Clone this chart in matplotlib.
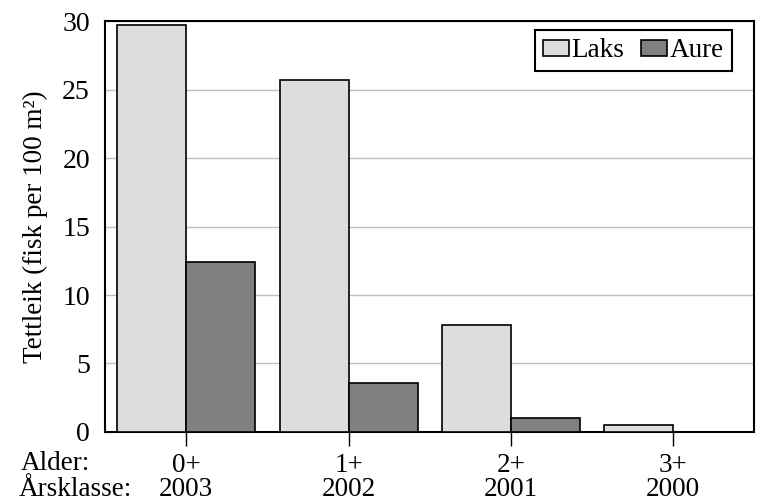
import numpy as np
import matplotlib
matplotlib.use('Agg')
from matplotlib import pyplot as plt
from matplotlib import transforms

# data
ages = ['0+', '1+', '2+', '3+']
years = ['2003', '2002', '2001', '2000']
laks = [29.7, 25.7, 7.8, 0.5]
aure = [12.4, 3.6, 1.0, 0.0]

plt.rcParams['font.family'] = ['Liberation Serif', 'DejaVu Serif']
plt.rcParams['font.size'] = 19.5

fig = plt.figure(figsize=(7.62, 5.04), dpi=100)
ax = fig.add_axes([0.138, 0.143, 0.852, 0.815])

x = np.arange(len(ages))
w = 0.425
ax.bar(x - w / 2, laks, w, color='#dddddd', edgecolor='black', linewidth=1.2,
       label='Laks', zorder=3)
ax.bar(x + w / 2, aure, w, color='#808080', edgecolor='black', linewidth=1.2,
       label='Aure', zorder=3)

ax.set_xlim(-0.5, len(ages) - 0.5)
ax.set_ylim(0, 30)
ax.set_yticks(np.arange(0, 31, 5))
ax.yaxis.grid(True, color='#c0c0c0', linewidth=1.0, zorder=0)
ax.set_axisbelow(True)
ax.tick_params(axis='y', length=0, pad=11, labelsize=20)

ax.set_xticks(x)
ax.set_xticklabels(ages)
ax.tick_params(axis='x', length=10, width=1.0, direction='out', pad=5,
               labelsize=19.5)

# second row of category labels (year class)
trans = transforms.blended_transform_factory(ax.transData, fig.transFigure)
for xi, yr in zip(x, years):
    ax.text(xi, 1 - 490 / 504, yr, transform=trans, ha='center', va='center')

for s in ax.spines.values():
    s.set_linewidth(1.5)

ax.set_ylabel('Tettleik (fisk per 100 m²)', labelpad=10)

fig.text(21 / 762, 1 - 463 / 504, 'Alder:', ha='left', va='center')
fig.text(19 / 762, 1 - 490 / 504, 'Årsklasse:', ha='left', va='center')

leg = ax.legend(loc='upper right', ncol=2, frameon=True, fancybox=False,
                edgecolor='black', handlelength=0.96, handleheight=0.55,
                handletextpad=0.1, columnspacing=0.63, borderpad=0.3,
                borderaxespad=0, bbox_to_anchor=(0.966, 0.978))
leg.get_frame().set_linewidth(1.5)
leg.get_frame().set_alpha(1)

fig.savefig('out.png', dpi=100)
